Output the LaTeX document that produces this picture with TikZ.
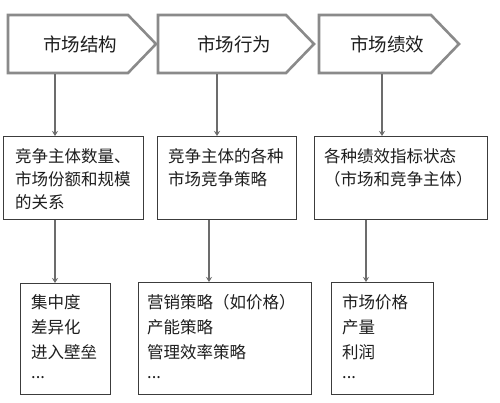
\documentclass[tikz,border=0pt]{standalone}
\usepackage{fontspec}
\setmainfont{Noto Sans CJK SC}
\usetikzlibrary{arrows.meta}
\definecolor{chevgray}{HTML}{8A8A8A}
\definecolor{boxgray}{HTML}{3C3C3C}
\definecolor{linegray}{HTML}{6C6C6C}
\definecolor{txtcol}{HTML}{1E1E1E}
\begin{document}
\begin{tikzpicture}[x=1pt,y=-1pt,
  chev/.style={draw=chevgray, line width=2.6pt, fill=white, line join=miter},
  toptext/.style={inner sep=0pt, text=txtcol, font=\fontsize{18.5}{22}\selectfont},
  box/.style={draw=boxgray, line width=1.4pt, fill=white, inner sep=0pt, anchor=north west},
  midtext/.style={inner sep=0pt, anchor=base west, align=left, text=txtcol, font=\fontsize{16.5}{23}\selectfont},
  bottext/.style={inner sep=0pt, anchor=base west, align=left, text=txtcol, font=\fontsize{16.5}{25}\selectfont},
  conn/.style={draw=linegray, line width=1.3pt, -{Stealth[length=5pt,width=6pt]}}
]
\useasboundingbox[fill=white] (0,0) rectangle (500,403);

% chevrons
\draw[chev] (8,15) -- (128,15) -- (156,44) -- (128,73) -- (8,73) -- cycle;
\draw[chev] (158,15) -- (286,15) -- (314,44) -- (286,73) -- (158,73) -- cycle;
\draw[chev] (319,15) -- (431,15) -- (459,44) -- (431,73) -- (319,73) -- cycle;
\node[toptext] (c1) at (80,44) {市场结构};
\node[toptext] (c2) at (234,44) {市场行为};
\node[toptext] (c3) at (387,44) {市场绩效};

% middle boxes
\node[box, minimum width=140, minimum height=83] (m1) at (3,136) {};
\node[box, minimum width=139, minimum height=83] (m2) at (157,136) {};
\node[box, minimum width=173, minimum height=83] (m3) at (314,136) {};
% base anchor = baseline of the last line
\node[midtext] (m1t) at (15,209) {竞争主体数量、\\市场份额和规模\\的关系};
\node[midtext] (m2t) at (168,186) {竞争主体的各种\\市场竞争策略};
\node[midtext] (m3t) at (324,186) {各种绩效指标状态\\（市场和竞争主体）};

% bottom boxes
\node[box, minimum width=90, minimum height=111] (b1) at (20,283) {};
\node[box, minimum width=173, minimum height=112] (b2) at (138,282) {};
\node[box, minimum width=102, minimum height=112] (b3) at (331,282) {};
\node[bottext] (b1t) at (31,378) {集中度\\差异化\\进入壁垒\\[-5pt]...};
\node[bottext] (b2t) at (147,378) {营销策略（如价格）\\产能策略\\管理效率策略\\[-5pt]...};
\node[bottext] (b3t) at (342,378) {市场价格\\产量\\利润\\[-5pt]...};

% connector anchors
\coordinate (k1) at (55,74.5);
\coordinate (k2) at (217,74.5);
\coordinate (k3) at (382,74.5);
\coordinate (j1) at (55,0);
\coordinate (j2) at (209,0);
\coordinate (j3) at (366,0);

\draw[conn] (k1) -- (m1.north -| k1);
\draw[conn] (k2) -- (m2.north -| k2);
\draw[conn] (k3) -- (m3.north -| k3);
\draw[conn] (m1.south -| j1) -- (b1.north -| j1);
\draw[conn] (m2.south -| j2) -- (b2.north -| j2);
\draw[conn] (m3.south -| j3) -- (b3.north -| j3);
\end{tikzpicture}
\end{document}
